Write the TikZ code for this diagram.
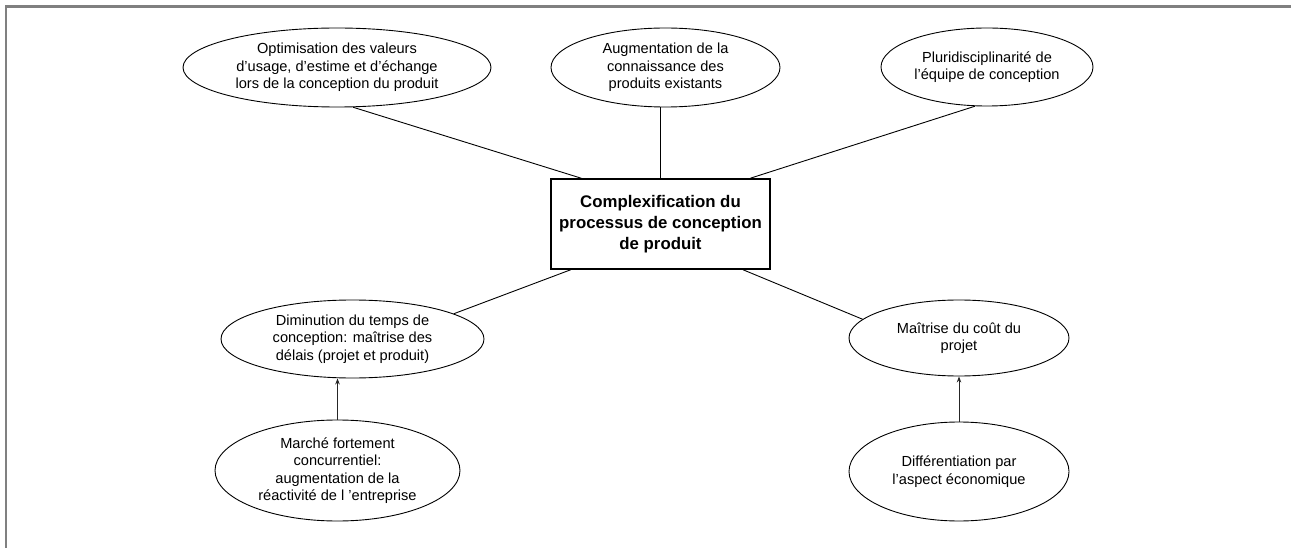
\documentclass[tikz,border=0pt]{standalone}
\usepackage{fontspec}
\setmainfont{Liberation Sans}
\usetikzlibrary{shapes.geometric,arrows.meta}
\tikzset{
  bubble/.style={draw=black, line width=0.9pt, ellipse, inner sep=0pt, align=center,
    font=\fontsize{14.6}{17.5}\selectfont},
  mainbox/.style={draw=black, line width=1.6pt, rectangle, inner sep=0pt, align=center,
    minimum width=219pt, minimum height=90pt, font=\bfseries\fontsize{16.8}{20.8}\selectfont},
  link/.style={draw=black, line width=0.9pt},
  push/.style={draw=black!85, line width=0.9pt, -{Stealth[length=6pt,width=4.5pt]}},
  frameline/.style={draw=black!50, line width=2.4pt}
}
\begin{document}
\begin{tikzpicture}[x=1pt,y=-1pt]
\useasboundingbox (0,0) rectangle (1291,548);
\coordinate (fTL) at (6,6.5);
\coordinate (fTR) at (1292,6.5);
\coordinate (fBL) at (6,549);
\draw[frameline] (fTR) -- (fTL) -- (fBL);

\node[mainbox] (c) at (660.5,224) {Complexification du\\processus de conception\\de produit};

\node[bubble, minimum width=308pt, minimum height=79pt] (tl) at (337,67.5)
  {Optimisation des valeurs\\d’usage, d’estime et d’échange\\lors de la conception du produit};
\node[bubble, minimum width=229pt, minimum height=79pt] (tm) at (665.5,67.5)
  {Augmentation de la\\connaissance des\\produits existants};
\node[bubble, minimum width=212pt, minimum height=78pt] (tr) at (987,67)
  {Pluridisciplinarité de\\l’équipe de conception};
\node[bubble, minimum width=263pt, minimum height=78pt] (dl) at (352.5,339)
  {Diminution du temps de\\conception: maîtrise des\\délais (projet et produit)};
\node[bubble, minimum width=245pt, minimum height=101pt] (ml) at (337.5,470.5)
  {Marché fortement\\concurrentiel:\\augmentation de la\\réactivité de l ’entreprise};
\node[bubble, minimum width=220pt, minimum height=76pt] (dr) at (959,338)
  {Maîtrise du coût du\\projet};
\node[bubble, minimum width=220pt, minimum height=99pt] (fr) at (959,471.5)
  {Différentiation par\\l’aspect économique};

\draw[link] (tl.-68) -- (c.150);
\draw[link] (c.north) -- (c.north |- tm.south);
\draw[link] (tr.253) -- (c.27.5);
\draw[link] (c.207.8) -- (dl.14);
\draw[link] (c.-29.5) -- (dr.169);

\draw[push] (ml.north) -- (ml.north |- dl.south);
\draw[push] (fr.north) -- (fr.north |- dr.south);
\end{tikzpicture}
\end{document}
